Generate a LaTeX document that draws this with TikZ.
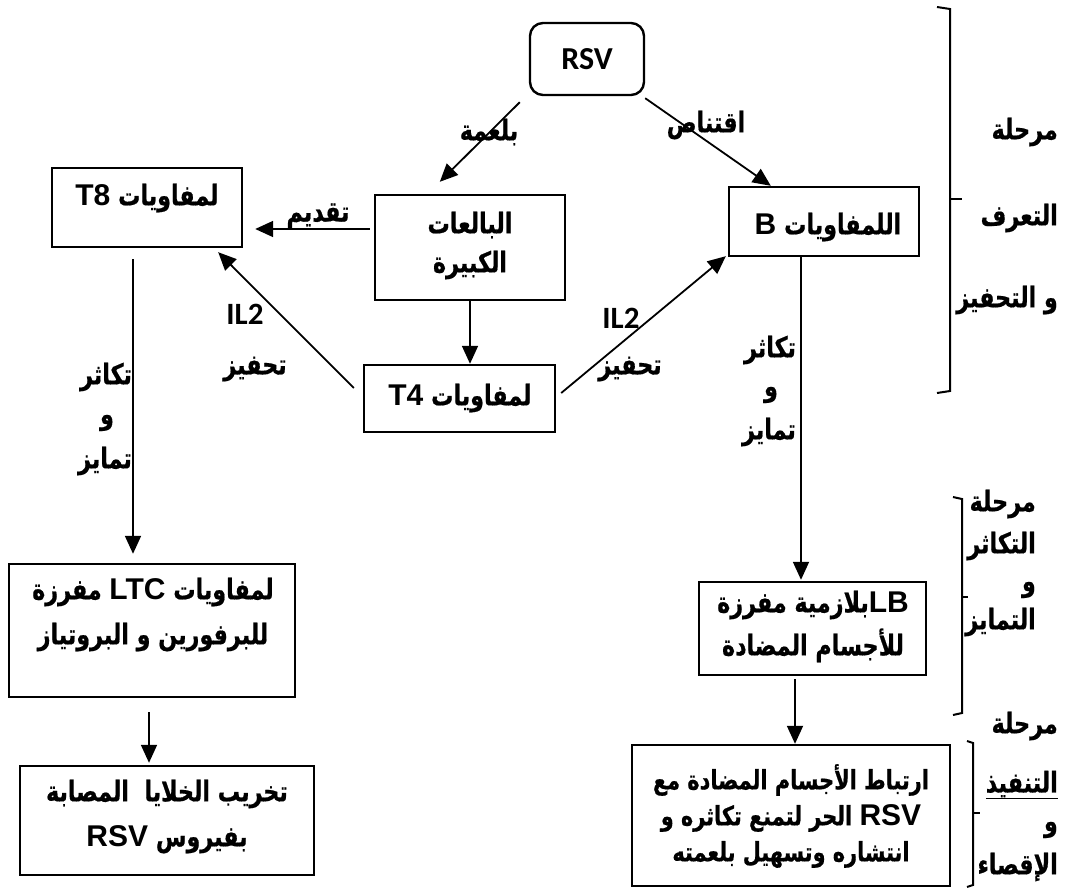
\documentclass[tikz,border=0pt]{standalone}
\usepackage{fontspec}
\usetikzlibrary{calc,arrows.meta}
\TeXXeTstate=1
\newfontfamily\arabicfont[Script=Arabic,FakeStretch=0.78,BoldFeatures={FakeBold=0.6}]{DejaVu Sans}
\newfontfamily\latinfont{Liberation Sans}
\newfontfamily\calfont{Carlito}
\newcommand{\artext}[1]{{\arabicfont\bfseries\beginR #1\endR}}
\newcommand{\lat}[1]{\beginL{\latinfont\bfseries\fontsize{30}{30}\selectfont #1}\endL}

\tikzset{
  box/.style={draw, line width=2.4pt, inner sep=0pt},
  rbox/.style={box, rounded corners=13pt},
  lbl/.style={inner sep=0pt, align=center, font=\fontsize{28.5}{42}\selectfont},
  phase/.style={inner sep=0pt, anchor=east, font=\fontsize{28.5}{30}\selectfont},
  arr/.style={line width=1.8pt, -{Triangle[length=18pt,width=16pt]}},
  brk/.style={line width=2pt}
}

\begin{document}
\begin{tikzpicture}[x=1pt,y=-1pt]
		\useasboundingbox (0,0) rectangle (1068,889);

		% boxes
		\node[rbox, minimum width=114, minimum height=72] (rsv) at (587,59) {\fontsize{32}{36}\selectfont\calfont\bfseries RSV};
		\node[box, minimum width=190, minimum height=79] (t8) at (147,207.5) {};
		\node[box, minimum width=190, minimum height=105] (mac) at (470,247.5) {};
		\node[box, minimum width=190, minimum height=69] (b) at (824,221.5) {};
		\node[box, minimum width=191, minimum height=67] (t4) at (459.5,398.5) {};
		\node[box, minimum width=286, minimum height=133] (ltc) at (152,630.5) {};
		\node[box, minimum width=294, minimum height=109] (dest) at (167,820.5) {};
		\node[box, minimum width=227, minimum height=93] (lb) at (812.5,628.5) {};
		\node[box, minimum width=318, minimum height=141] (final) at (791,815.5) {};

		% box texts
		\node[lbl] (t8txt) at (147,198) {\artext{لمفاويات \lat{T8}}};
		\node[lbl, font=\fontsize{28.5}{39}\selectfont] (mactxt) at (470,245.5) {\artext{البالعات}\\\artext{الكبيرة}};
		\node[lbl] (btxt) at (828,227) {\artext{اللمفاويات \lat{B}}};
		\node[lbl] (t4txt) at (460,398) {\artext{لمفاويات \lat{T4}}};
		\node[lbl, font=\fontsize{28.5}{45}\selectfont] (ltctxt) at (153,614.5) {\artext{لمفاويات \lat{LTC} مفرزة}\\\artext{للبرفورين و البروتياز}};
		\node[lbl, font=\fontsize{28.5}{45}\selectfont] (desttxt) at (167,816.5) {\artext{تخريب الخلايا\ \ المصابة}\\\artext{بفيروس \lat{RSV}}};
		\node[lbl, font=\fontsize{28.5}{43}\selectfont] (lbtxt) at (813,626.5) {\artext{\lat{LB}بلازمية مفرزة}\\\artext{للأجسام المضادة}};
		\node[lbl, font=\fontsize{26.7}{36}\selectfont] (finaltxt) at (791,816) {\artext{ارتباط الأجسام المضادة مع}\\\artext{\lat{RSV} الحر لتمنع تكاثره و}\\\artext{انتشاره وتسهيل بلعمته}};

		% connectors
		\draw[arr] ($(rsv.south west)+(-9,6)$) -- ($(mac.north west)+(66,-12)$);
		\draw[arr] ($(rsv.south east)+(0,2)$) -- ($(b.north west)+(43,0)$);
		\draw[arr] ($(mac.west)+(-4,-18.5)$) -- ($(t8.east)+(12,21.5)$);
		\draw[arr] (mac.south) -- (mac.south |- t4.north);
		\draw[arr] ($(t4.west)+(-9,-10.5)$) -- ($(t8.south east)+(-25,4)$);
		\draw[arr] ($(t4.east)+(5,-5.5)$) -- ($(b.south west)+(-2,-1)$);
		\draw[arr] ($(t8.south)+(-14,11)$) -- ($(ltc.north)+(-19,-9)$);
		\draw[arr] ($(b.south)+(-23,0)$) -- ($(lb.north)+(-11.5,-1)$);
		\draw[arr] ($(ltc.south)+(-3,14)$) -- ($(dest.north)+(-18,-2)$);
		\draw[arr] ($(lb.south)+(-17.5,3)$) -- ($(final.north)+(4,0)$);

		% arrow labels
		\node[lbl] (phago) at (489,132) {\artext{بلعمة}};
		\node[lbl] (capture) at (706,125) {\artext{اقتناص}};
		\node[lbl] (present) at (318,216) {\artext{تقديم}};
		\node[lbl, font=\fontsize{31}{36}\selectfont\calfont\bfseries] (illeft) at (245,314) {IL2};
		\node[lbl] (stimleft) at (255,369) {\artext{تحفيز}};
		\node[lbl, font=\fontsize{31}{36}\selectfont\calfont\bfseries] (ilright) at (621,318) {IL2};
		\node[lbl] (stimright) at (630,369) {\artext{تحفيز}};
		\node[lbl] (prolL) at (106,377) {\artext{تكاثر}};
		\node[lbl] (andL) at (107,423) {\artext{و}};
		\node[lbl] (diffL) at (105,461) {\artext{تمايز}};
		\node[lbl] (prolR) at (770,350) {\artext{تكاثر}};
		\node[lbl] (andR) at (771,395) {\artext{و}};
		\node[lbl] (diffR) at (769,432) {\artext{تمايز}};

		% phase brackets
		\draw[brk] (937,7) -- (950,9) -- (950,391) -- (937,393);
		\draw[brk] (950,199) -- (962,199);
		\draw[brk] (953,497) -- (962,499) -- (962,713) -- (953,715);
		\draw[brk] (962,597) -- (968,597);
		\draw[brk] (967,741) -- (973,743) -- (973,885) -- (967,887);
		\draw[brk] (973,813) -- (980,813);

		% phase names
		\node[phase] (ph1a) at (1058,132) {\artext{مرحلة}};
		\node[phase] (ph1b) at (1058,218) {\artext{التعرف}};
		\node[phase] (ph1c) at (1058,300) {\artext{و التحفيز}};
		\node[phase] (ph2a) at (1036,504) {\artext{مرحلة}};
		\node[phase] (ph2b) at (1036,546) {\artext{التكاثر}};
		\node[phase] (ph2c) at (1036,590) {\artext{و}};
		\node[phase] (ph2d) at (1036,622) {\artext{التمايز}};
		\node[phase] (ph3a) at (1058,726) {\artext{مرحلة}};
		\node[phase] (ph3b) at (1058,785) {\underline{\artext{التنفيذ}}};
		\node[phase] (ph3c) at (1058,830) {\artext{و}};
		\node[phase] (ph3d) at (1058,867) {\artext{الإقصاء}};

\end{tikzpicture}
\end{document}
